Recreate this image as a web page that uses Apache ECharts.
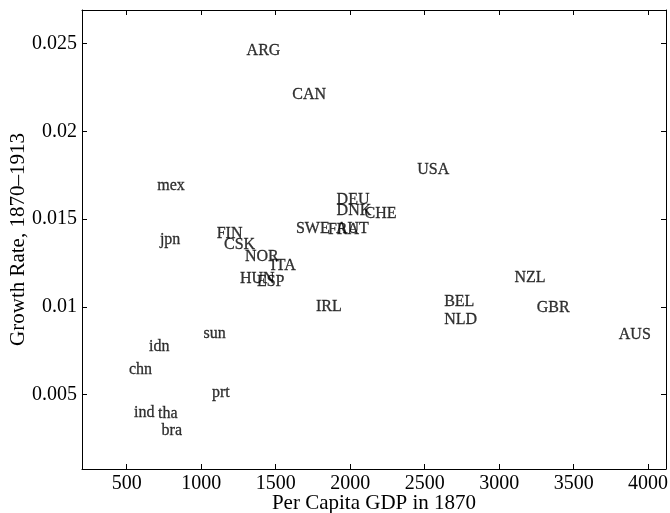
<!DOCTYPE html>
<html>
<head>
<meta charset="utf-8">
<script src="https://cdn.jsdelivr.net/npm/echarts@6/dist/echarts.min.js"></script>
<style>
html,body{margin:0;padding:0;background:#fff;}
#chart{width:670px;height:513px;}
</style>
</head>
<body>
<div id="chart"></div>
<script>
//国家代码
var countries = ['ARG','CAN','mex','jpn','FIN','CSK','NOR','ITA','HUN','ESP','IRL','sun','idn','chn','prt','ind','tha','bra',
    'DEU','DNK','CHE','SWE','FRA','AUT','USA','NZL','BEL','NLD','GBR','AUS'];
//1870年人均GDP
var gdp1870 = [1305,1611,705,723,1104,1153,1294,1465,1260,1374,1770,1015,650,515,1072,549,710,734,
    1909,1909,2096,1636,1851,1905,2450,3103,2631,2631,3252,3803];
//1870-1913增长率
var growth = [0.02461,0.02210,0.01687,0.01382,0.01416,0.01353,0.01285,0.01233,0.01162,0.01140,0.00998,0.00845,0.00771,0.00640,0.00511,0.00394,0.00389,0.00292,
    0.01610,0.01550,0.01530,0.01445,0.01439,0.01445,0.01779,0.01168,0.01030,0.00927,0.00995,0.00841];
//刻度
var xTicks = [500,1000,1500,2000,2500,3000,3500,4000];
var yTicks = [0.005,0.01,0.015,0.02,0.025];

var pts = [];
for(var i=0;i<countries.length;i++){
    pts.push({value:[gdp1870[i],growth[i]], name:countries[i]});
}

var font = 'Liberation Serif';
function axisCommon(pos, showLabel, ticks){
    return {
        type:'value',
        position:pos,
        nameMoveOverlap:false,
        axisLine:{show:true, onZero:false, lineStyle:{color:'#000', width:1}},
        axisTick:{show:true, inside:true, length:5, customValues:ticks, lineStyle:{color:'#000'}},
        axisLabel:{
            show:showLabel, customValues:ticks, color:'#000', fontFamily:font, fontSize:20, margin:5,
            formatter:function(v){ return String(v); }
        },
        splitLine:{show:false}
    };
}

var xb = axisCommon('bottom', true, xTicks);
xb.min = 200; xb.max = 4120;
xb.name = 'Per Capita GDP in 1870';
xb.nameLocation = 'middle';
xb.nameGap = 24;
xb.nameTextStyle = {color:'#000', fontFamily:font, fontSize:21};
var xt = axisCommon('top', false, xTicks);
xt.min = 200; xt.max = 4120;

var yl = axisCommon('left', true, yTicks);
yl.min = 0.00075; yl.max = 0.02692;
yl.name = 'Growth Rate, 1870\u20131913';
yl.nameLocation = 'middle';
yl.nameGap = 53;
yl.nameTextStyle = {color:'#000', fontFamily:font, fontSize:21};
var yr = axisCommon('right', false, yTicks);
yr.min = 0.00075; yr.max = 0.02692;

var myChart = echarts.init(document.getElementById('chart'));
var option = {
    animation:false,
    backgroundColor:'#fff',
    grid:{left:82, top:10, right:4, bottom:44, containLabel:false, outerBoundsMode:'none'},
    xAxis:[xb, xt],
    yAxis:[yl, yr],
    series:[
        {
            type:'scatter',
            symbolSize:0,
            silent:true,
            data:pts,
            label:{
                show:true,
                position:'right',
                distance:0,
                formatter:'{b}',
                color:'#000',
                textBorderColor:'#000',
                textBorderWidth:0.3,
                fontFamily:font,
                fontSize:16
            }
        }
    ]
};
myChart.setOption(option);
</script>
</body>
</html>
